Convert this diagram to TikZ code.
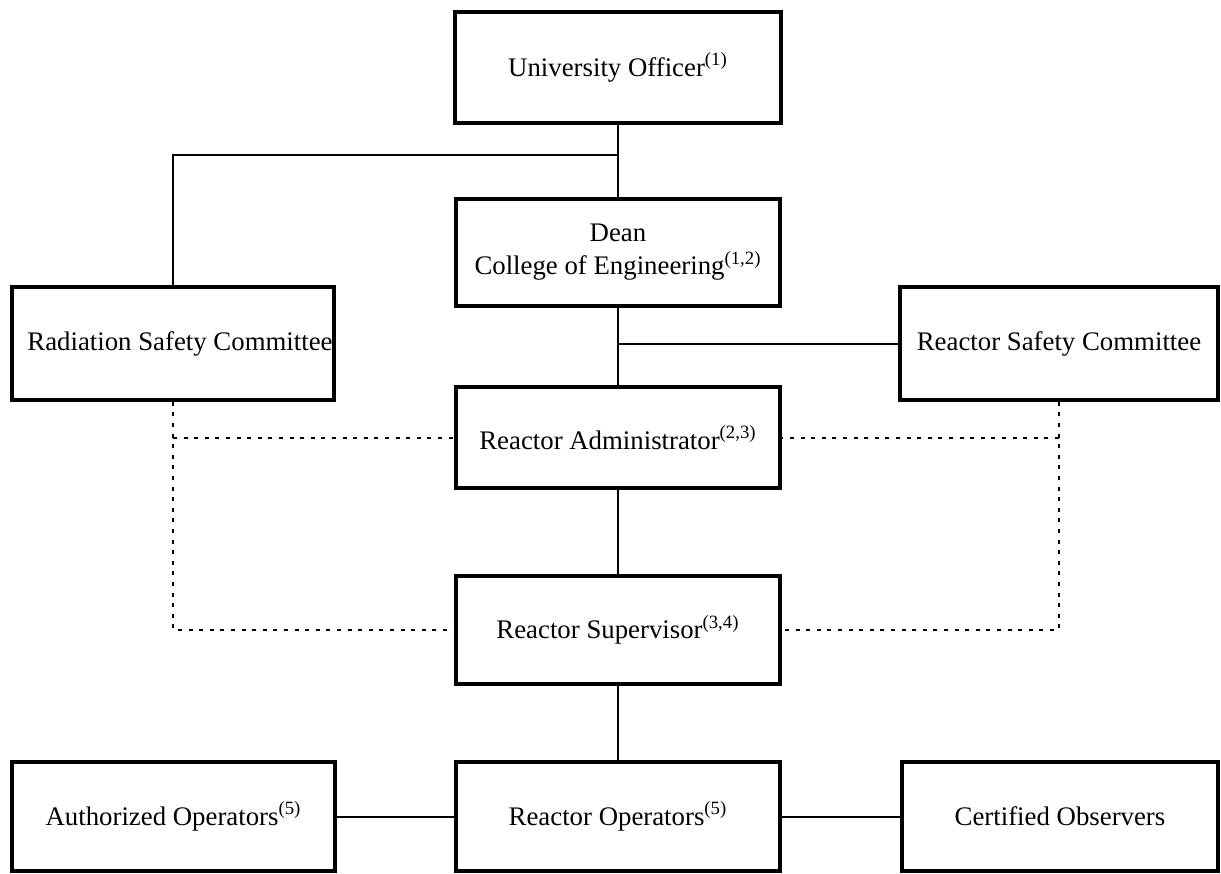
\documentclass[tikz,border=0pt]{standalone}
\usepackage{fontspec}
\setmainfont{Liberation Serif}
\begin{document}
\begin{tikzpicture}[x=0.5pt,y=-0.5pt,
  box/.style={draw, line width=1.8pt, inner sep=0pt, align=center,
    font=\fontsize{13.4}{16.5}\selectfont},
  link/.style={line width=1pt},
  dots/.style={line width=1pt, dash pattern=on 2pt off 3.3pt}]
\useasboundingbox (0,0) rectangle (1221,873);
\node[box, minimum width=163pt, minimum height=55.5pt] (univ) at (618,67.5) {University Officer\textsuperscript{(1)}};
\node[box, minimum width=162pt, minimum height=53.5pt] (dean) at (618,252.5) {Dean\\College of Engineering\textsuperscript{(1,2)}};
\node[box, minimum width=161pt, minimum height=56.5pt] (rad) at (173,343.5) {\hspace*{7pt}Radiation Safety Committee};
\node[box, minimum width=159pt, minimum height=56.5pt] (rsc) at (1059,343.5) {Reactor Safety Committee};
\node[box, minimum width=162pt, minimum height=50.5pt] (admin) at (618,437.5) {Reactor Administrator\textsuperscript{(2,3)}};
\node[box, minimum width=162pt, minimum height=54pt] (sup) at (618,630) {Reactor Supervisor\textsuperscript{(3,4)}};
\node[box, minimum width=161.5pt, minimum height=54.5pt] (auth) at (173.5,816.5) {Authorized Operators\textsuperscript{(5)}};
\node[box, minimum width=162pt, minimum height=54.5pt] (ops) at (618,816.5) {Reactor Operators\textsuperscript{(5)}};
\node[box, minimum width=158pt, minimum height=54.5pt] (cert) at (1060,816.5) {Certified Observers};
\coordinate (j1) at (618,155);
% solid connectors
\draw[link] (univ.south) -- (dean.north);
\draw[link] (j1) -| (rad.north);
\draw[link] (dean.south) -- (admin.north);
\draw[link] (dean.south |- rsc.west) -- (rsc.west);
\draw[link] (admin.south) -- (sup.north);
\draw[link] (sup.south) -- (ops.north);
\draw[link] (auth.east) -- (ops.west);
\draw[link] (ops.east) -- (cert.west);
% dotted connectors
\draw[dots] (rad.south) |- (sup.west);
\draw[dots] (rad.south |- admin.west) -- (admin.west);
\draw[dots] (rsc.south) |- (sup.east);
\draw[dots] (rsc.south |- admin.east) -- (admin.east);
\end{tikzpicture}
\end{document}
